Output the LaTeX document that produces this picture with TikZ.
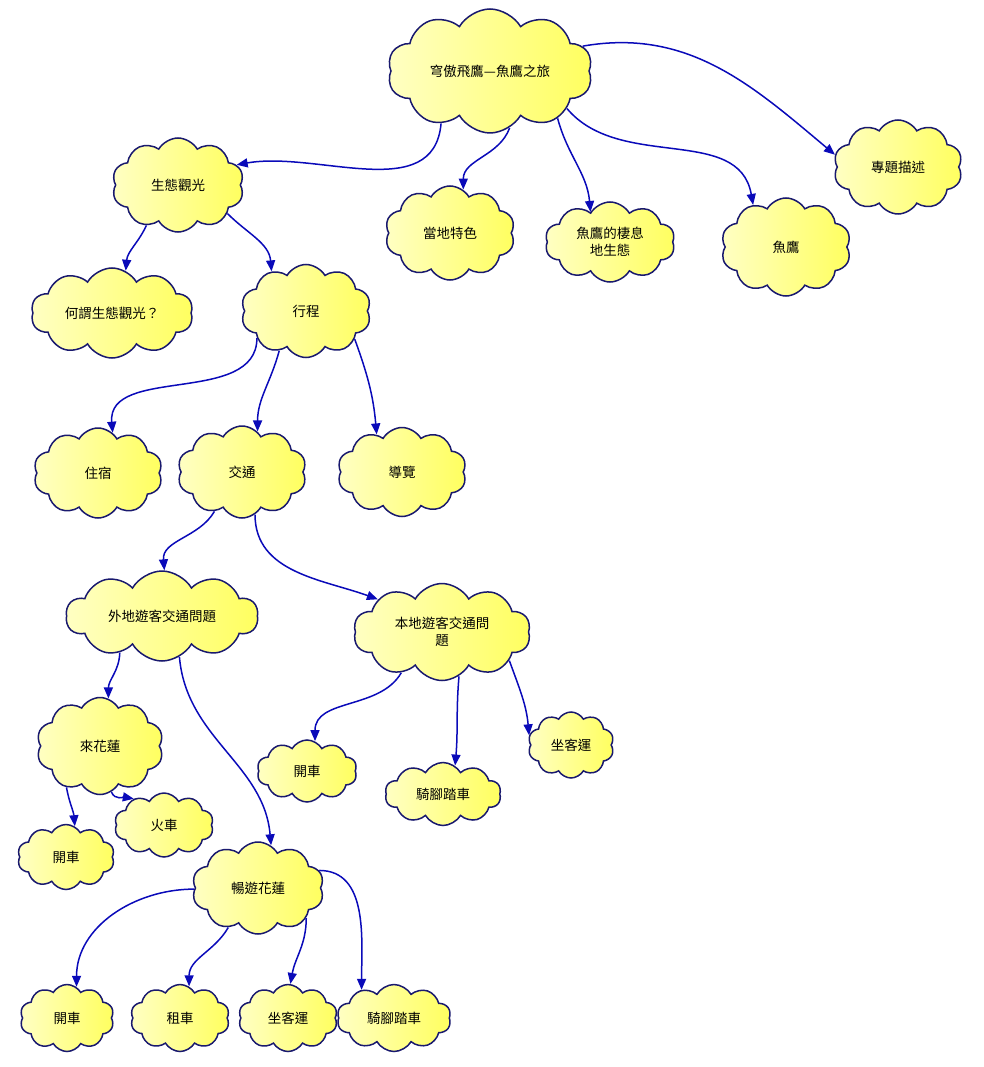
\documentclass[tikz,border=0pt]{standalone}
\usepackage{fontspec}
\newfontfamily\cjk{Noto Sans CJK TC}
\usepackage{xcolor}
\definecolor{cloudline}{RGB}{25,25,110}
\definecolor{linkblue}{RGB}{10,10,185}
\definecolor{cloudlight}{RGB}{255,255,195}
\definecolor{clouddark}{RGB}{255,255,95}
\usetikzlibrary{shapes.symbols, arrows.meta}

\begin{document}
\begin{tikzpicture}[x=1pt, y=-1pt,
	bubble/.style={cloud, cloud puffs=10, cloud puff arc=120, cloud ignores aspect,
	               draw=cloudline, line width=1.5pt,
	               left color=cloudlight, right color=clouddark, align=center,
	               font=\cjk\fontsize{13.5}{17}\selectfont, inner sep=0pt},
	sz/.style n args={2}{minimum width=#1pt, minimum height=#2pt},
	link/.style={-{Triangle[length=11pt, width=9pt]}, draw=linkblue, line width=1.5pt}
	]
\useasboundingbox (0,0) rectangle (984,1067);

% Root and first level
\node[bubble, sz={205}{124}] (root)    at (490,71)  {穹傲飛鷹—魚鷹之旅};
\node[bubble, sz={132}{94}]  (eco)     at (178,185) {生態觀光};
\node[bubble, sz={130}{94}]  (feature) at (450,233) {當地特色};
\node[bubble, sz={130}{80}]  (habitat) at (610,242) {魚鷹的棲息\\地生態};
\node[bubble, sz={130}{98}]  (osprey)  at (786,247) {魚鷹};
\node[bubble, sz={129}{94}]  (topic)   at (898,167) {專題描述};

% Below eco tourism
\node[bubble, sz={162}{90}]  (whatis)  at (112,313) {何謂生態觀光？};
\node[bubble, sz={130}{93}]  (trip)    at (306,311) {行程};
\node[bubble, sz={129}{90}]  (stay)    at (98,473)  {住宿};
\node[bubble, sz={129}{92}]  (traffic) at (242,472) {交通};
\node[bubble, sz={129}{89}]  (guide)   at (402,472) {導覽};

% Traffic
\node[bubble, sz={192}{90}]  (outside) at (162,616) {外地遊客交通問題};
\node[bubble, sz={177}{97}]  (localq)  at (442,632) {本地遊客交通問\\題};
\node[bubble, sz={127}{97}]  (come)    at (100,746) {來花蓮};
\node[bubble, sz={99}{64}]   (train)   at (164,825) {火車};
\node[bubble, sz={97}{65}]   (driveA)  at (66,857)  {開車};
\node[bubble, sz={132}{92}]  (tour)    at (258,888) {暢遊花蓮};
\node[bubble, sz={100}{62}]  (driveB)  at (307,771) {開車};
\node[bubble, sz={116}{63}]  (bikeB)   at (443,794) {騎腳踏車};
\node[bubble, sz={86}{66}]   (busB)    at (571,745) {坐客運};

% Bottom row
\node[bubble, sz={94}{67}]   (driveC)  at (67,1018)  {開車};
\node[bubble, sz={99}{67}]   (rent)    at (180,1018) {租車};
\node[bubble, sz={99}{67}]   (busC)    at (288,1018) {坐客運};
\node[bubble, sz={114}{67}]  (bikeC)   at (394,1018) {騎腳踏車};

% Connectors
\draw[link] (root.227) to[out=265, in=10] (eco.19);
\draw[link] (root.289) to[out=250, in=90] (feature.73);
\draw[link] (root.325) to[out=-75, in=95] (habitat.123);
\draw[link] (root.334) to[out=-50, in=100] (osprey.128);
\draw[link] (root.15)  to[out=10, in=140] (topic.169);
\draw[link] (eco.232)  to[out=-115, in=85] (whatis.72);
\draw[link] (eco.330)  to[out=-45, in=95] (trip.131);
\draw[link] (trip.209) to[out=-90, in=95] (stay.70);
\draw[link] (trip.236) to[out=-105, in=90] (traffic.69);
\draw[link] (trip.330) to[out=-70, in=95] (guide.124);
\draw[link] (traffic.235) to[out=-120, in=95] (outside.87);
\draw[link] (traffic.287) to[out=-90, in=160] (localq.153);
\draw[link] (outside.221) to[out=-92, in=90] (come.80);
\draw[link] (outside.293) to[out=-85, in=95] (tour.73);
\draw[link] (come.284)    to[out=-70, in=170] (train.139);
\draw[link] (come.231)    to[out=-80, in=95] (driveA.74);
\draw[link] (localq.225)  to[out=-120, in=90] (driveB.75);
\draw[link] (localq.291)  to[out=-95, in=85] (bikeB.67);
\draw[link] (localq.337)  to[out=-70, in=95] (busB.167);
\draw[link] (tour.181) to[out=180, in=90] (driveC.73);
\draw[link] (tour.233) to[out=-120, in=90] (rent.74);
\draw[link] (tour.328) to[out=-90, in=80] (busC.86);
\draw[link] (tour.16)  to[out=0, in=90] (bikeC.139);

\end{tikzpicture}
\end{document}
